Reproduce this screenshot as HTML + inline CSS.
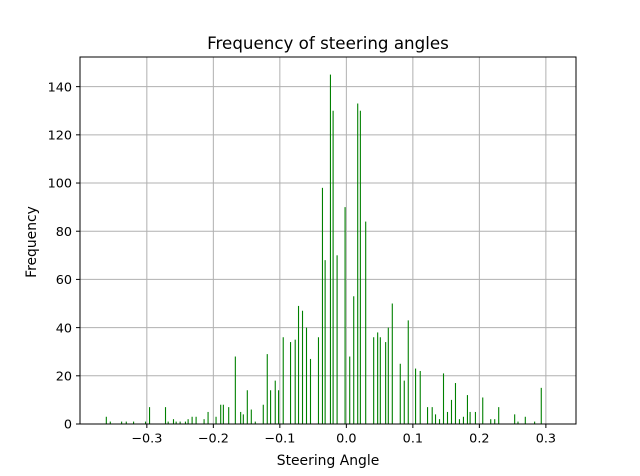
<!DOCTYPE html>
<html><head><meta charset="utf-8"><style>
html,body{margin:0;padding:0;background:#fff;}
svg{display:block;font-family:"DejaVu Sans","Liberation Sans",sans-serif;}
</style></head><body>
<svg id="chart" width="640" height="476" viewBox="0 0 640 476">
<rect width="640" height="476" fill="#fff"/>
<g id="grid"></g>
<g id="bars"></g>
<rect x="80" y="57" width="496" height="367" fill="none" stroke="#000" stroke-width="1"/>
<g id="xticks"></g>
<g id="yticks"></g>
<text x="328" y="49" text-anchor="middle" font-size="16.7">Frequency of steering angles</text>
<text x="328" y="465" text-anchor="middle" font-size="13.9">Steering Angle</text>
<text x="36" y="242" text-anchor="middle" font-size="13.9" transform="rotate(-90 36 242)">Frequency</text>
</svg>
<script>
const angles=[-0.361,-0.355,-0.338,-0.331,-0.320,-0.302,-0.296,-0.272,-0.268,-0.260,-0.256,-0.250,-0.242,-0.238,-0.232,-0.226,-0.214,-0.208,-0.196,-0.189,-0.185,-0.177,-0.167,-0.159,-0.155,-0.149,-0.143,-0.137,-0.125,-0.119,-0.114,-0.107,-0.102,-0.095,-0.084,-0.077,-0.072,-0.066,-0.060,-0.054,-0.042,-0.036,-0.032,-0.024,-0.020,-0.014,-0.002,0.005,0.011,0.017,0.021,0.029,0.041,0.047,0.051,0.059,0.063,0.069,0.081,0.087,0.093,0.104,0.111,0.122,0.129,0.134,0.140,0.146,0.152,0.158,0.164,0.170,0.176,0.182,0.186,0.194,0.205,0.217,0.223,0.229,0.253,0.258,0.269,0.283,0.293];
const counts=[3,1,1,1,1,1,7,7,1,2,1,1,1,2,3,3,2,5,3,8,8,7,28,5,4,14,6,1,8,29,14,18,14,36,34,35,49,47,40,27,36,98,68,145,130,70,90,28,53,133,130,84,36,38,36,34,40,50,25,18,43,23,22,7,7,4,2,21,5,10,17,2,3,12,5,5,11,2,2,7,4,1,3,1,15];
const xTicks=[-0.3,-0.2,-0.1,0.0,0.1,0.2,0.3];
const xTickLabels=["\u22120.3","\u22120.2","\u22120.1","0.0","0.1","0.2","0.3"];
const yTicks=[0,20,40,60,80,100,120,140];
const NS="http://www.w3.org/2000/svg";
const L=80,R=576,T=57,B=424,xMin=-0.4005,xMax=0.3453,yMax=152.3;
function xs(v){return L+(v-xMin)/(xMax-xMin)*(R-L);}
function ys(v){return B-v/yMax*(B-T);}
function mk(t,a,p){const e=document.createElementNS(NS,t);for(const k in a)e.setAttribute(k,a[k]);p.appendChild(e);return e;}
const grid=document.getElementById('grid'),bars=document.getElementById('bars'),xg=document.getElementById('xticks'),yg=document.getElementById('yticks');
xTicks.forEach((v,i)=>{const x=xs(v);
 const g=mk('line',{x1:x,x2:x,y1:T,y2:B,stroke:'#b0b0b0','stroke-width':1},grid);
 
 
 const t=mk('line',{x1:x,x2:x,y1:B,y2:B+4,stroke:'#000','stroke-width':1},xg);
 
 
 const l=mk('text',{x:x,y:B+18.5,'text-anchor':'middle','font-size':12.8},xg);l.textContent=xTickLabels[i];
 
 
});
yTicks.forEach(v=>{const y=ys(v);
 const g=mk('line',{x1:L,x2:R,y1:y,y2:y,stroke:'#b0b0b0','stroke-width':1},grid);
 
 
 const t=mk('line',{x1:L-4,x2:L,y1:y,y2:y,stroke:'#000','stroke-width':1},yg);
 
 
 const l=mk('text',{x:L-8,y:y+4.7,'text-anchor':'end','font-size':12.8},yg);l.textContent=v;
 
 
});
angles.forEach((a,i)=>{const x=xs(a),y=ys(counts[i]);
 const r=mk('rect',{x:x-0.5,y:y,width:1.1,height:B-y,fill:'#008000'},bars);
 
 
});
</script>
</body></html>
